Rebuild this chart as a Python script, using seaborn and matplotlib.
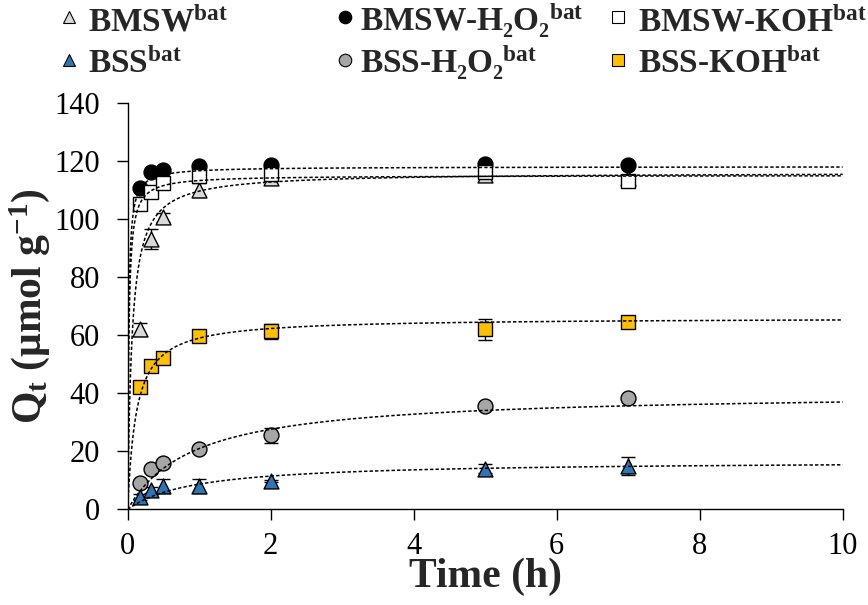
import matplotlib
matplotlib.use("Agg")
import matplotlib.pyplot as plt
from matplotlib.lines import Line2D
import numpy as np
import pandas as pd
import seaborn as sns

# sampling times (h)
times = [0.167, 0.333, 0.5, 1, 2, 5, 7]

bmsw = [62, 93, 100.5, 110, 114, 115, 114]
bmsw_err = [2.3, 3.5, 1.5, 2.3, 0, 0, 0]
bss = [4.3, 6.6, 8.1, 8.1, 9.8, 14, 15]
bss_err = [1, 1, 2.3, 2.3, 0.5, 1.5, 3.2]
bmsw_h2o2 = [110.5, 116.3, 116.9, 118.2, 118.5, 118.8, 118.5]
bmsw_h2o2_err = [0, 0, 0, 0, 0, 0, 0]
bss_h2o2 = [9, 13.8, 16, 20.9, 25.5, 35.5, 38.5]
bss_h2o2_err = [1, 1, 1, 1, 2.5, 0.8, 1]
bmsw_koh = [105, 109.4, 112.2, 114.8, 115.4, 116, 113.1]
bmsw_koh_err = [1.5, 1, 1, 1, 1, 1.5, 1]
bss_koh = [42, 49.4, 52.3, 59.8, 61.3, 62, 64.6]
bss_koh_err = [1, 1, 1, 1, 2.5, 3.7, 1]

# pseudo-second-order fit parameters (qe, k) for the dashed curves
qe_fit = [116, 16.8, 118, 40.4, 115, 66]
k_fit = [0.1466, 0.0643, 0.695, 0.0267, 0.548, 0.127]

names = [r"BMSW$^{\mathbf{bat}}$", r"BSS$^{\mathbf{bat}}$",
         r"BMSW-H₂O₂$^{\mathbf{bat}}$", r"BSS-H₂O₂$^{\mathbf{bat}}$",
         r"BMSW-KOH$^{\mathbf{bat}}$", r"BSS-KOH$^{\mathbf{bat}}$"]
values = [bmsw, bss, bmsw_h2o2, bss_h2o2, bmsw_koh, bss_koh]
errors = [bmsw_err, bss_err, bmsw_h2o2_err, bss_h2o2_err, bmsw_koh_err, bss_koh_err]
markers = ["^", "^", "o", "o", "s", "s"]
colors = ["#d9d9d9", "#2e75b6", "#000000", "#a6a6a6", "#ffffff", "#ffc000"]

sns.set_theme(style="ticks")
plt.rcParams["font.family"] = ["Liberation Serif", "DejaVu Serif"]
plt.rcParams["mathtext.fontset"] = "custom"
plt.rcParams["mathtext.rm"] = "Liberation Serif"
plt.rcParams["mathtext.bf"] = "Liberation Serif:bold"
plt.rcParams["mathtext.it"] = "Liberation Serif:italic"

W, H = 868, 605
fig = plt.figure(figsize=(W / 100, H / 100), dpi=100)
ax = fig.add_axes([0.1471, 0.1579, 0.8237, 0.6724])

t_fit = np.linspace(0, 10, 4001)
for i in range(len(names)):
    df = pd.DataFrame({"t": times, "q": values[i], "err": errors[i]})
    ax.errorbar(df["t"], df["q"], yerr=df["err"], fmt="none", ecolor="black",
                elinewidth=1, capsize=5, capthick=1, zorder=2 + i * 0.1)
    sns.scatterplot(data=df, x="t", y="q", marker=markers[i], color=colors[i],
                    edgecolor="black", linewidth=1, s=115, ax=ax,
                    zorder=3 + i * 0.1, legend=False)
    q_fit = qe_fit[i] ** 2 * k_fit[i] * t_fit / (1 + qe_fit[i] * k_fit[i] * t_fit)
    sns.lineplot(x=t_fit, y=q_fit, color="black", linestyle=(0, (2.2, 1.4)),
                 linewidth=1.1, ax=ax, zorder=5)

ax.set_xlim(0, 10)
ax.set_ylim(0, 140)
ax.set_xticks(range(0, 11, 2))
ax.set_yticks(range(0, 141, 20))
ax.tick_params(axis="both", direction="out", length=8, width=1, color="black",
               labelsize=22, labelcolor="black")
ax.tick_params(axis="y", pad=12)
ax.tick_params(axis="x", pad=8)
for side in ["top", "right"]:
    ax.spines[side].set_visible(False)
for side in ["left", "bottom"]:
    ax.spines[side].set_color("black")
    ax.spines[side].set_linewidth(1)

ax.set_xlabel("Time (h)", fontsize=30, fontweight="bold", labelpad=-2)
ax.set_ylabel(r"Q$_{\mathbf{t}}$ (μmol g$^{\mathbf{-1}}$)", fontsize=30,
              fontweight="bold", labelpad=2)

# legend above the axes: 3 columns x 2 rows (marker key + baseline-aligned label)
key_x = [69, 345, 618]
text_x = [88, 360, 638]
key_y = [20, 63]
base_y = [31, 73]
for i in range(len(names)):
    c, r = i // 2, i % 2
    h = Line2D([], [], linestyle="none", marker=markers[i], markersize=9,
               markerfacecolor=colors[i], markeredgecolor="black",
               markeredgewidth=0.8)
    fig.legend(handles=[h], labels=[""], loc="center",
               bbox_to_anchor=(key_x[c] / W, 1 - key_y[r] / H), frameon=False,
               borderpad=0, handlelength=0.6, handletextpad=0,
               prop={"size": 24})
    fig.text(text_x[c] / W, 1 - base_y[r] / H, names[i], fontsize=24,
             fontweight="bold", ha="left", va="baseline")

fig.savefig("out.png", dpi=100)
